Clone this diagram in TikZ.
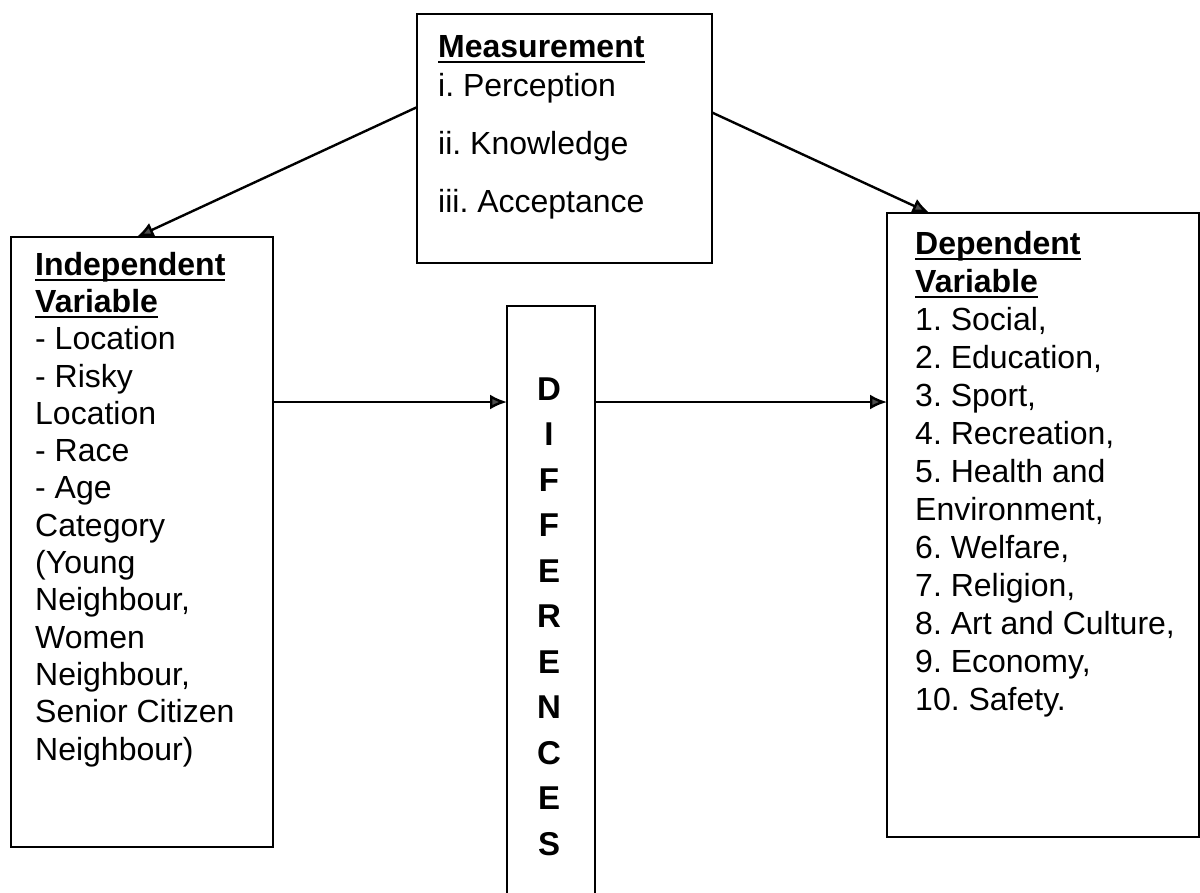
\documentclass[tikz,border=0pt]{standalone}
\usepackage{fontspec}
\setmainfont{Liberation Sans}
\usetikzlibrary{arrows.meta}
\newcommand\myul[1]{\sbox0{#1}\rlap{\rule[-6pt]{\wd0}{2.4pt}}\usebox0}
\frenchspacing
\begin{document}
\begin{tikzpicture}[x=1pt,y=-1pt,
  box/.style={draw, line width=2.6pt, inner sep=0pt, outer sep=0pt, anchor=north west},
  txt/.style={anchor=base west, align=left, inner sep=0pt},
  conn/.style={line width=2.4pt, -{Latex[length=17pt,width=15pt,fill=black!70]}}]
\useasboundingbox (0,0) rectangle (1200,892);
\clip (0,0) rectangle (1200,892);
\fill[white] (0,0) rectangle (1200,892);
% boxes
\node[box, minimum width=295pt, minimum height=249pt] (meas) at (417,14) {};
\node[box, minimum width=262pt, minimum height=610pt] (indep) at (11,237) {};
\node[box, minimum width=88pt, minimum height=620pt] (diff) at (507,306) {};
\node[box, minimum width=312pt, minimum height=624pt] (dep) at (887,213) {};
% texts (base anchor = baseline of last line)
\node[txt, font=\fontsize{32}{37.4}\selectfont] (meastxt) at (438,212)
  {\myul{\bfseries Measurement}\\[1.6pt] i. Perception\\[20.6pt] ii. Knowledge\\[20.6pt] iii. Acceptance};
\node[txt, font=\fontsize{32}{37.3}\selectfont] (indeptxt) at (35,760)
  {\myul{\bfseries Independent}\\ \myul{\bfseries Variable}\\ - Location\\ - Risky\\ Location\\ - Race\\ - Age\\ Category\\ (Young\\ Neighbour,\\ Women\\ Neighbour,\\ Senior Citizen\\ Neighbour)};
\node[txt, font=\fontsize{32}{38}\selectfont] (deptxt) at (915,710)
  {\myul{\bfseries Dependent}\\ \myul{\bfseries Variable}\\ 1. Social,\\ 2. Education,\\ 3. Sport,\\ 4. Recreation,\\ 5. Health and\\ Environment,\\ 6. Welfare,\\ 7. Religion,\\ 8. Art and Culture,\\ 9. Economy,\\ 10. Safety.};
\node[anchor=base, align=center, inner sep=0pt, font=\fontsize{33}{45.5}\selectfont\bfseries] (difftxt) at (549,855)
  {D\\ I\\ F\\ F\\ E\\ R\\ E\\ N\\ C\\ E\\ S};
% connectors
\coordinate (hy) at (0,402);
\draw[conn] (meas.168) -- (indep.91);
\draw[conn] (meas.10) -- (dep.110);
\draw[conn] (indep.east |- hy) -- (diff.west |- hy);
\draw[conn] (diff.east |- hy) -- (dep.west |- hy);
\end{tikzpicture}
\end{document}
